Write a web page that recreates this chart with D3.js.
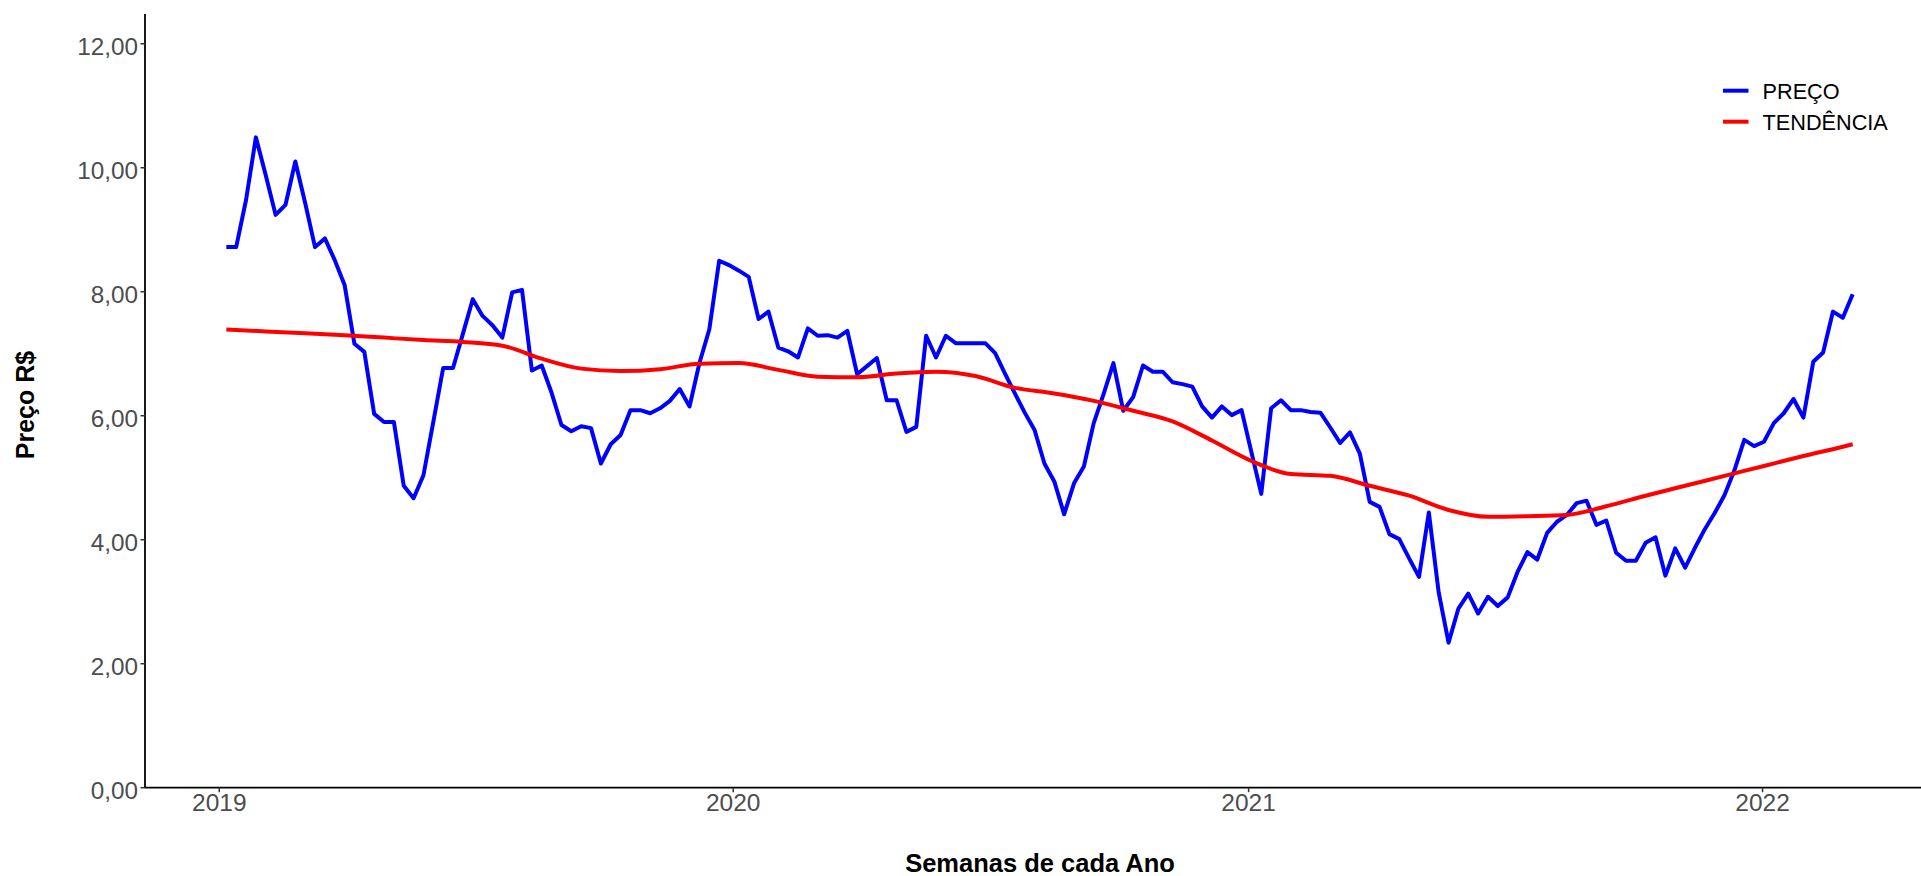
<!DOCTYPE html>
<html>
<head>
<meta charset="utf-8">
<script src="https://cdn.jsdelivr.net/npm/d3@7"></script>
<style>
  html, body { margin: 0; padding: 0; background: #ffffff; }
  svg { display: block; font-family: "Liberation Sans", Arial, sans-serif; }
</style>
</head>
<body>
<svg id="chart" width="1921" height="876"></svg>
<script>
// ---- Data (weekly prices, starting week of 2019-01-06) ----
const firstWeek = "2019-01-06";
const price = [
  8.72, 8.72, 9.48, 10.49, 9.88, 9.24, 9.40, 10.10, 9.43, 8.72,
  8.86, 8.51, 8.11, 7.16, 7.03, 6.03, 5.90, 5.90, 4.87, 4.67,
  5.04, 5.90, 6.77, 6.77, 7.32, 7.88, 7.61, 7.46, 7.26, 7.99,
  8.03, 6.73, 6.81, 6.37, 5.85, 5.75, 5.83, 5.80, 5.23, 5.54,
  5.69, 6.09, 6.09, 6.04, 6.12, 6.24, 6.43, 6.15, 6.85, 7.39,
  8.50, 8.43, 8.34, 8.24, 7.56, 7.68, 7.10, 7.04, 6.94, 7.41,
  7.29, 7.30, 7.26, 7.37, 6.67, 6.80, 6.93, 6.25, 6.25, 5.74,
  5.82, 7.29, 6.94, 7.29, 7.17, 7.17, 7.17, 7.17, 7.01, 6.68,
  6.36, 6.05, 5.77, 5.23, 4.94, 4.41, 4.91, 5.18, 5.88, 6.35,
  6.85, 6.08, 6.30, 6.81, 6.71, 6.71, 6.54, 6.51, 6.47, 6.15,
  5.97, 6.15, 6.01, 6.09, 5.41, 4.74, 6.12, 6.25, 6.09, 6.09,
  6.06, 6.05, 5.81, 5.56, 5.73, 5.39, 4.61, 4.53, 4.09, 4.01,
  3.70, 3.40, 4.44, 3.15, 2.34, 2.89, 3.13, 2.81, 3.08, 2.93,
  3.07, 3.48, 3.80, 3.68, 4.11, 4.29, 4.40, 4.59, 4.63, 4.24,
  4.31, 3.79, 3.66, 3.66, 3.95, 4.04, 3.42, 3.86, 3.55, 3.87,
  4.17, 4.43, 4.72, 5.12, 5.61, 5.51, 5.58, 5.88, 6.04, 6.27,
  5.97, 6.87, 7.02, 7.68, 7.58, 7.96
];
// Trend (smoothed) read at selected week indices
const trendWeek = [0, 4, 8, 12, 16, 20, 24, 28, 32, 36, 40, 44, 48, 52, 56, 60, 64, 68, 72, 76,
  80, 84, 88, 92, 96, 100, 104, 108, 112, 116, 120, 124, 128, 132, 136, 140, 144, 148, 152, 156,
  160, 164, 165];
const trendValue = [7.39, 7.36, 7.33, 7.30, 7.26, 7.22, 7.19, 7.13, 6.92, 6.76, 6.72, 6.75, 6.84, 6.85, 6.74, 6.63, 6.62, 6.68, 6.71, 6.64,
  6.45, 6.36, 6.24, 6.08, 5.91, 5.60, 5.27, 5.06, 5.03, 4.87, 4.71, 4.48, 4.37, 4.38, 4.40, 4.54, 4.71, 4.87, 5.03, 5.19,
  5.35, 5.50, 5.54];
const yTicks = [0, 2, 4, 6, 8, 10, 12];
const xTickYears = [2019, 2020, 2021, 2022];
const seriesNames = ["PREÇO", "TENDÊNCIA"];
const seriesColors = ["#0000FF", "#FF0000"];

// ---- Drawing ----
const svg = d3.select("#chart");
const start = new Date(firstWeek + "T00:00:00Z");
const weekDate = i => d3.utcDay.offset(start, 7 * i);

const dMin = weekDate(0), dMax = weekDate(price.length - 1);
const span = dMax - dMin;
const x = d3.scaleUtc()
  .domain([new Date(+dMin - 0.05 * span), new Date(+dMax + 0.05 * span)])
  .range([145, 1934]);
const y = d3.scaleLinear().domain([0, 12.48]).range([787.7, 14]);

const tickColor = "#4d4d4d";

// Y axis
const yAxis = svg.append("g").attr("transform", "translate(145,0)");
yAxis.append("line").attr("x1", 0).attr("x2", 0).attr("y1", y(12.48)).attr("y2", y(0))
  .attr("stroke", "#000").attr("stroke-width", 1.8);
yTicks.forEach(t => {
  yAxis.append("line").attr("x1", -4.5).attr("x2", 0).attr("y1", y(t)).attr("y2", y(t))
    .attr("stroke", "#333").attr("stroke-width", 1.5);
  yAxis.append("text").attr("x", -7).attr("y", y(t)).attr("dy", "0.45em")
    .attr("text-anchor", "end").attr("fill", tickColor).style("font-size", "24.3px")
    .text(d3.format(".2f")(t).replace(".", ","));
});

// X axis
const xAxis = svg.append("g").attr("transform", `translate(0,${y(0)})`);
xAxis.append("line").attr("x1", 145).attr("x2", 1934).attr("y1", 0).attr("y2", 0)
  .attr("stroke", "#000").attr("stroke-width", 1.8);
xTickYears.forEach(yr => {
  const d = new Date(Date.UTC(yr, 0, 1));
  xAxis.append("line").attr("x1", x(d)).attr("x2", x(d)).attr("y1", 0).attr("y2", 4.5)
    .attr("stroke", "#333").attr("stroke-width", 1.5);
  xAxis.append("text").attr("x", x(d)).attr("y", 23.5).attr("text-anchor", "middle")
    .attr("fill", tickColor).style("font-size", "24.5px").text(String(yr));
});

// Axis titles
svg.append("text").attr("x", 1040).attr("y", 872).attr("text-anchor", "middle")
  .style("font-size", "25.5px").style("font-weight", "bold").attr("fill", "#000")
  .text("Semanas de cada Ano");
svg.append("text").attr("transform", "translate(33.5,405) rotate(-90)")
  .attr("text-anchor", "middle").style("font-size", "25px").style("font-weight", "bold")
  .attr("fill", "#000").text("Preço R$");

// Lines
const priceLine = d3.line().x((d, i) => x(weekDate(i))).y(d => y(d));
svg.append("path").datum(price).attr("d", priceLine)
  .attr("fill", "none").attr("stroke", seriesColors[0]).attr("stroke-width", 4)
  .attr("stroke-linejoin", "round");

const trendLine = d3.line().curve(d3.curveMonotoneX)
  .x((d, i) => x(weekDate(trendWeek[i]))).y(d => y(d));
svg.append("path").datum(trendValue).attr("d", trendLine)
  .attr("fill", "none").attr("stroke", seriesColors[1]).attr("stroke-width", 4);

// Legend
const legend = svg.append("g");
seriesNames.forEach((name, i) => {
  const cy = 90.7 + i * 31;
  legend.append("line").attr("x1", 1723).attr("x2", 1748.5).attr("y1", cy).attr("y2", cy)
    .attr("stroke", seriesColors[i]).attr("stroke-width", 4);
  legend.append("text").attr("x", 1762.5).attr("y", cy + 7.8).style("font-size", "21.7px")
    .attr("fill", "#000").text(name);
});
</script>
</body>
</html>
